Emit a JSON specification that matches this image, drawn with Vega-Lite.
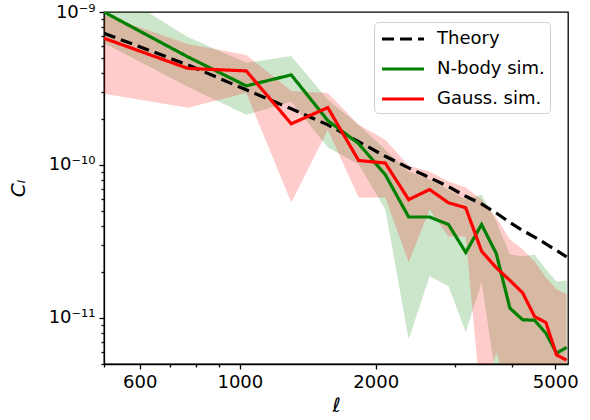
{
  "$schema": "https://vega.github.io/schema/vega-lite/v6.json",
  "width": 464,
  "height": 352,
  "autosize": {"type": "none"},
  "padding": {"left": 104, "top": 12, "right": 22, "bottom": 56},
  "background": "white",
  "datasets": {
    "lines": [
      {"l": 500, "series": "Theory", "value": 7.26e-10},
      {"l": 766.7, "series": "Theory", "value": 4.51e-10},
      {"l": 1033.3, "series": "Theory", "value": 3.10e-10},
      {"l": 1300, "series": "Theory", "value": 2.33e-10},
      {"l": 1566.7, "series": "Theory", "value": 1.83e-10},
      {"l": 1833.3, "series": "Theory", "value": 1.42e-10},
      {"l": 2100, "series": "Theory", "value": 1.14e-10},
      {"l": 2366.7, "series": "Theory", "value": 9.57e-11},
      {"l": 2633.3, "series": "Theory", "value": 8.27e-11},
      {"l": 2900, "series": "Theory", "value": 7.22e-11},
      {"l": 3166.7, "series": "Theory", "value": 6.24e-11},
      {"l": 3433.3, "series": "Theory", "value": 5.56e-11},
      {"l": 3700, "series": "Theory", "value": 4.85e-11},
      {"l": 3966.7, "series": "Theory", "value": 4.21e-11},
      {"l": 4233.3, "series": "Theory", "value": 3.73e-11},
      {"l": 4500, "series": "Theory", "value": 3.38e-11},
      {"l": 4766.7, "series": "Theory", "value": 3.05e-11},
      {"l": 5033.3, "series": "Theory", "value": 2.76e-11},
      {"l": 5300, "series": "Theory", "value": 2.51e-11},
      {"l": 500, "series": "N-body sim.", "value": 1.00e-9},
      {"l": 766.7, "series": "N-body sim.", "value": 5.09e-10},
      {"l": 1033.3, "series": "N-body sim.", "value": 3.29e-10},
      {"l": 1300, "series": "N-body sim.", "value": 3.88e-10},
      {"l": 1566.7, "series": "N-body sim.", "value": 1.95e-10},
      {"l": 1833.3, "series": "N-body sim.", "value": 1.38e-10},
      {"l": 2100, "series": "N-body sim.", "value": 8.65e-11},
      {"l": 2366.7, "series": "N-body sim.", "value": 4.57e-11},
      {"l": 2633.3, "series": "N-body sim.", "value": 4.57e-11},
      {"l": 2900, "series": "N-body sim.", "value": 4.08e-11},
      {"l": 3166.7, "series": "N-body sim.", "value": 2.68e-11},
      {"l": 3433.3, "series": "N-body sim.", "value": 4.08e-11},
      {"l": 3700, "series": "N-body sim.", "value": 2.64e-11},
      {"l": 3966.7, "series": "N-body sim.", "value": 1.16e-11},
      {"l": 4233.3, "series": "N-body sim.", "value": 9.73e-12},
      {"l": 4500, "series": "N-body sim.", "value": 9.66e-12},
      {"l": 4766.7, "series": "N-body sim.", "value": 7.95e-12},
      {"l": 5033.3, "series": "N-body sim.", "value": 5.89e-12},
      {"l": 5300, "series": "N-body sim.", "value": 6.41e-12},
      {"l": 500, "series": "Gauss. sim.", "value": 6.74e-10},
      {"l": 766.7, "series": "Gauss. sim.", "value": 4.28e-10},
      {"l": 1033.3, "series": "Gauss. sim.", "value": 4.12e-10},
      {"l": 1300, "series": "Gauss. sim.", "value": 1.86e-10},
      {"l": 1566.7, "series": "Gauss. sim.", "value": 2.37e-10},
      {"l": 1833.3, "series": "Gauss. sim.", "value": 1.07e-10},
      {"l": 2100, "series": "Gauss. sim.", "value": 1.03e-10},
      {"l": 2366.7, "series": "Gauss. sim.", "value": 5.94e-11},
      {"l": 2633.3, "series": "Gauss. sim.", "value": 6.91e-11},
      {"l": 2900, "series": "Gauss. sim.", "value": 5.66e-11},
      {"l": 3166.7, "series": "Gauss. sim.", "value": 5.25e-11},
      {"l": 3433.3, "series": "Gauss. sim.", "value": 2.73e-11},
      {"l": 3700, "series": "Gauss. sim.", "value": 2.13e-11},
      {"l": 3966.7, "series": "Gauss. sim.", "value": 1.76e-11},
      {"l": 4233.3, "series": "Gauss. sim.", "value": 1.46e-11},
      {"l": 4500, "series": "Gauss. sim.", "value": 1.02e-11},
      {"l": 4766.7, "series": "Gauss. sim.", "value": 9.33e-12},
      {"l": 5033.3, "series": "Gauss. sim.", "value": 5.73e-12},
      {"l": 5300, "series": "Gauss. sim.", "value": 5.30e-12}
    ],
    "bands": [
      {"l": 500, "series": "N-body sim.", "lo": 6.28e-10, "hi": 1.50e-9},
      {"l": 766.7, "series": "N-body sim.", "lo": 3.24e-10, "hi": 6.87e-10},
      {"l": 1033.3, "series": "N-body sim.", "lo": 2.13e-10, "hi": 4.65e-10},
      {"l": 1300, "series": "N-body sim.", "lo": 2.59e-10, "hi": 5.16e-10},
      {"l": 1566.7, "series": "N-body sim.", "lo": 1.30e-10, "hi": 2.67e-10},
      {"l": 1833.3, "series": "N-body sim.", "lo": 1.01e-10, "hi": 1.83e-10},
      {"l": 2100, "series": "N-body sim.", "lo": 5.12e-11, "hi": 1.26e-10},
      {"l": 2366.7, "series": "N-body sim.", "lo": 7.26e-12, "hi": 9.05e-11},
      {"l": 2633.3, "series": "N-body sim.", "lo": 1.87e-11, "hi": 8.03e-11},
      {"l": 2900, "series": "N-body sim.", "lo": 1.61e-11, "hi": 6.91e-11},
      {"l": 3166.7, "series": "N-body sim.", "lo": 8.07e-12, "hi": 5.94e-11},
      {"l": 3433.3, "series": "N-body sim.", "lo": 1.71e-11, "hi": 6.41e-11},
      {"l": 3700, "series": "N-body sim.", "lo": 3.98e-12, "hi": 4.27e-11},
      {"l": 3966.7, "series": "N-body sim.", "lo": 3e-12, "hi": 2.60e-11},
      {"l": 4233.3, "series": "N-body sim.", "lo": 3e-12, "hi": 2.53e-11},
      {"l": 4500, "series": "N-body sim.", "lo": 3e-12, "hi": 2.60e-11},
      {"l": 4766.7, "series": "N-body sim.", "lo": 3e-12, "hi": 2.08e-11},
      {"l": 5033.3, "series": "N-body sim.", "lo": 3e-12, "hi": 1.73e-11},
      {"l": 5300, "series": "N-body sim.", "lo": 3e-12, "hi": 1.76e-11},
      {"l": 500, "series": "Gauss. sim.", "lo": 2.92e-10, "hi": 9.56e-10},
      {"l": 766.7, "series": "Gauss. sim.", "lo": 2.37e-10, "hi": 6.18e-10},
      {"l": 1033.3, "series": "Gauss. sim.", "lo": 2.96e-10, "hi": 5.24e-10},
      {"l": 1300, "series": "Gauss. sim.", "lo": 5.68e-11, "hi": 3.05e-10},
      {"l": 1566.7, "series": "Gauss. sim.", "lo": 1.70e-10, "hi": 2.96e-10},
      {"l": 1833.3, "series": "Gauss. sim.", "lo": 6.12e-11, "hi": 1.83e-10},
      {"l": 2100, "series": "Gauss. sim.", "lo": 6.12e-11, "hi": 1.46e-10},
      {"l": 2366.7, "series": "Gauss. sim.", "lo": 2.31e-11, "hi": 9.90e-11},
      {"l": 2633.3, "series": "Gauss. sim.", "lo": 5.12e-11, "hi": 9.05e-11},
      {"l": 2900, "series": "Gauss. sim.", "lo": 3.41e-11, "hi": 7.79e-11},
      {"l": 3166.7, "series": "Gauss. sim.", "lo": 3.41e-11, "hi": 7.12e-11},
      {"l": 3433.3, "series": "Gauss. sim.", "lo": 2.5e-12, "hi": 5.94e-11},
      {"l": 3700, "series": "Gauss. sim.", "lo": 5.97e-12, "hi": 4.54e-11},
      {"l": 3966.7, "series": "Gauss. sim.", "lo": 3e-12, "hi": 3.26e-11},
      {"l": 4233.3, "series": "Gauss. sim.", "lo": 3e-12, "hi": 2.81e-11},
      {"l": 4500, "series": "Gauss. sim.", "lo": 3e-12, "hi": 2.34e-11},
      {"l": 4766.7, "series": "Gauss. sim.", "lo": 3e-12, "hi": 1.84e-11},
      {"l": 5033.3, "series": "Gauss. sim.", "lo": 3e-12, "hi": 1.54e-11},
      {"l": 5300, "series": "Gauss. sim.", "lo": 3e-12, "hi": 1.43e-11}
    ]
  },
  "encoding": {
    "x": {
      "field": "l", "type": "quantitative",
      "scale": {"type": "log", "domain": [500, 5336], "nice": false},
      "axis": {
        "title": "ℓ",
        "titleFontStyle": "italic",
        "titlePadding": 4,
        "values": [500, 600, 700, 800, 900, 1000, 2000, 3000, 4000, 5000],
        "labelExpr": "indexof([600, 1000, 2000, 5000], datum.value) >= 0 ? format(datum.value, 'd') : ''",
        "tickSize": {"condition": {"test": "indexof([600, 1000, 2000, 5000], datum.value) >= 0", "value": 5}, "value": 3},
        "labelPadding": 4,
        "labelOverlap": false,
        "labelFlush": false
      }
    }
  },
  "layer": [
    {
      "data": {"name": "bands"},
      "transform": [{"filter": "datum.series == 'N-body sim.'"}],
      "mark": {"type": "area", "clip": true, "color": "green", "opacity": 0.2},
      "encoding": {
        "y": {
          "field": "lo", "type": "quantitative",
          "scale": {"type": "log", "domain": [5e-12, 1e-9], "nice": false},
          "axis": {
            "title": "Cₗ",
            "titleFontStyle": "italic",
            "values": [5e-12, 6e-12, 7e-12, 8e-12, 9e-12, 1e-11, 2e-11, 3e-11, 4e-11, 5e-11, 6e-11, 7e-11, 8e-11, 9e-11, 1e-10, 2e-10, 3e-10, 4e-10, 5e-10, 6e-10, 7e-10, 8e-10, 9e-10, 1e-9],
            "labelExpr": "abs(datum.value - 1e-9) < 1e-12 ? '10⁻⁹' : (abs(datum.value - 1e-10) < 1e-13 ? '10⁻¹⁰' : (abs(datum.value - 1e-11) < 1e-14 ? '10⁻¹¹' : ''))",
            "tickSize": {"condition": {"test": "abs(datum.value - 1e-9) < 1e-12 || abs(datum.value - 1e-10) < 1e-13 || abs(datum.value - 1e-11) < 1e-14", "value": 5}, "value": 3},
            "labelPadding": 4,
            "labelOverlap": false,
            "labelFlush": false,
            "titlePadding": 20
          }
        },
        "y2": {"field": "hi"}
      }
    },
    {
      "data": {"name": "bands"},
      "transform": [{"filter": "datum.series == 'Gauss. sim.'"}],
      "mark": {"type": "area", "clip": true, "color": "red", "opacity": 0.2},
      "encoding": {
        "y": {"field": "lo", "type": "quantitative", "scale": {"type": "log", "domain": [5e-12, 1e-9], "nice": false}},
        "y2": {"field": "hi"}
      }
    },
    {
      "data": {"name": "lines"},
      "mark": {"type": "line", "clip": true, "strokeWidth": 3.2},
      "encoding": {
        "y": {"field": "value", "type": "quantitative", "scale": {"type": "log", "domain": [5e-12, 1e-9], "nice": false}},
        "color": {
          "field": "series", "type": "nominal",
          "scale": {"domain": ["Theory", "N-body sim.", "Gauss. sim."], "range": ["black", "green", "red"]},
          "legend": {"title": null}
        },
        "strokeDash": {
          "field": "series", "type": "nominal",
          "scale": {"domain": ["Theory", "N-body sim.", "Gauss. sim."], "range": [[12, 6], [1, 0], [1, 0]]},
          "legend": {"title": null}
        }
      }
    }
  ],
  "config": {
    "view": {"stroke": "black", "strokeWidth": 1.3},
    "font": "DejaVu Sans",
    "axis": {
      "labelFont": "DejaVu Sans", "labelFontSize": 18, "labelColor": "black",
      "titleFont": "DejaVu Sans", "titleFontSize": 20, "titleColor": "black", "titleFontWeight": "normal",
      "domainColor": "black", "domainWidth": 1.3, "tickColor": "black", "tickWidth": 1.3, "grid": false
    },
    "legend": {
      "orient": "none", "legendX": 270, "legendY": 10,
      "labelFont": "DejaVu Sans", "labelFontSize": 18, "labelColor": "black",
      "symbolType": "M-2.1,0H2.1", "symbolStrokeWidth": 3.2, "symbolSize": 400,
      "symbolOffset": 12,
      "strokeColor": "#d0d0d0", "fillColor": "white", "cornerRadius": 4,
      "padding": 5, "rowPadding": 9, "labelOffset": 22
    }
  }
}
